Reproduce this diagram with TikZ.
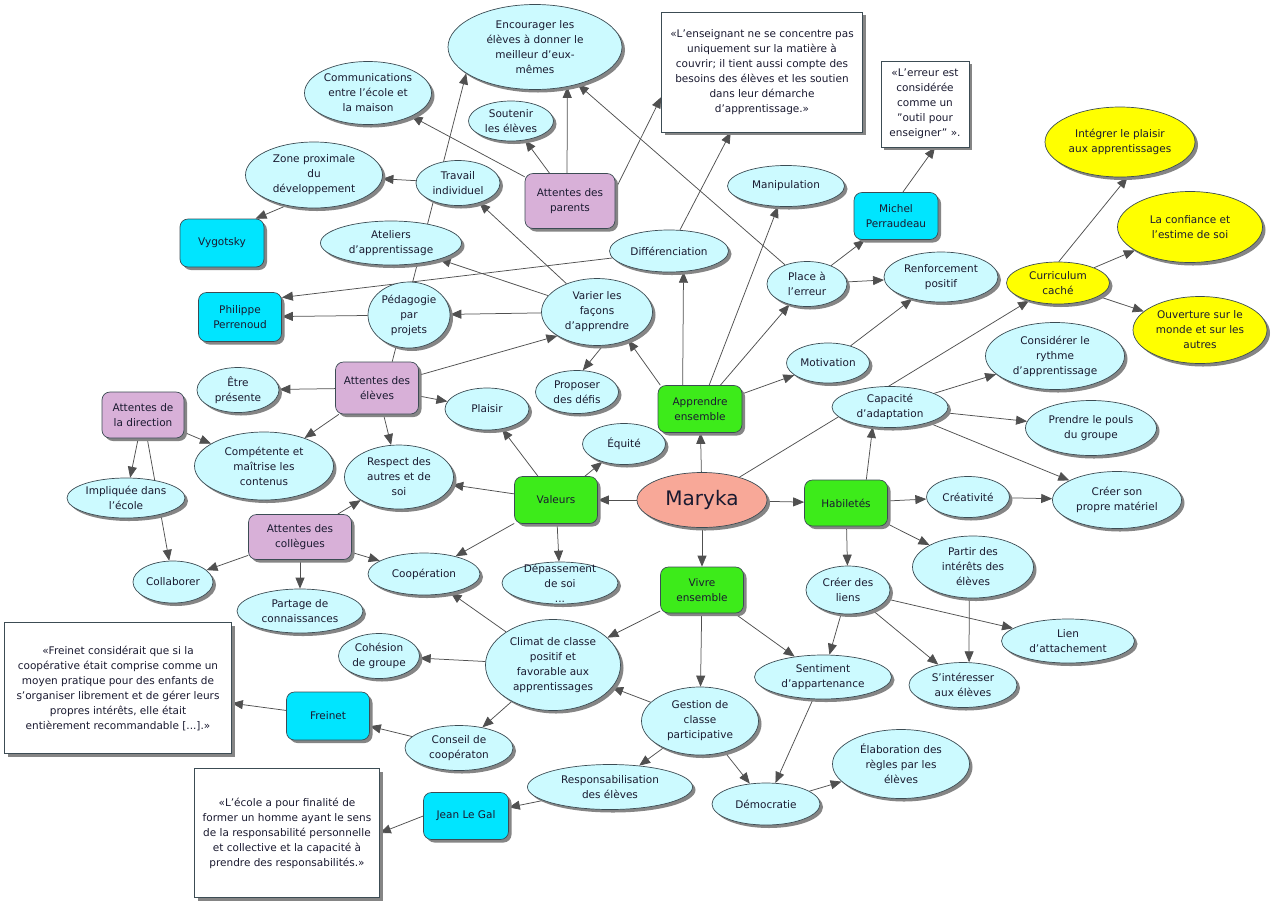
\documentclass[tikz,border=0pt]{standalone}
\usepackage{fontspec}
\setmainfont{DejaVu Sans}
\usetikzlibrary{shapes.geometric,shadows,arrows.meta,backgrounds}
\definecolor{cfill}{HTML}{CCFAFF}
\definecolor{gfill}{HTML}{3DEB1A}
\definecolor{bfill}{HTML}{00E5FF}
\definecolor{pfill}{HTML}{D8B0D8}
\definecolor{yfill}{HTML}{FFFF00}
\definecolor{sfill}{HTML}{F8A898}
\definecolor{bord}{HTML}{3C4C54}
\definecolor{lnc}{HTML}{505050}
\definecolor{txt}{HTML}{1A1A30}
\definecolor{shad}{HTML}{858585}
\begin{document}
\begin{tikzpicture}[x=1pt,y=-1pt,
 nbase/.style={draw=bord, line width=0.7pt, text=txt, align=center, inner sep=0pt,
   font=\fontsize{10.5}{15}\selectfont,
   drop shadow={shadow xshift=3pt, shadow yshift=-3pt, fill=shad, opacity=1}},
 ell/.style 2 args={nbase, ellipse, fill=cfill, inner xsep=-4pt, inner ysep=-2pt, minimum width=#1, minimum height=#2},
 yel/.style 2 args={ell={#1}{#2}, fill=yfill},
 rbox/.style 2 args={nbase, rectangle, rounded corners=8pt, minimum width=#1, minimum height=#2},
 grn/.style 2 args={rbox={#1}{#2}, fill=gfill},
 cyn/.style 2 args={rbox={#1}{#2}, fill=bfill},
 pur/.style 2 args={rbox={#1}{#2}, fill=pfill},
 qbox/.style 2 args={nbase, rectangle, fill=white, minimum width=#1, minimum height=#2},
 arr/.style={draw=lnc, line width=0.75pt, -{Triangle[length=11pt,width=9pt]}},
]
\useasboundingbox (0,0) rectangle (1275,906);
\begin{pgfonlayer}{background}
\fill[white] (0,0) rectangle (1275,906);
\end{pgfonlayer}

% nodes
\node[ell={174}{85}] (enc) at (535,47) {Encourager les\\élèves à donner le\\meilleur d'eux-\\mêmes};
\node[ell={127}{63}] (comm) at (368,93) {Communications\\entre l'école et\\la maison};
\node[ell={85}{40}] (sout) at (511,121) {Soutenir\\les élèves};
\node[qbox={201}{120}] (q1) at (762,72) {«L'enseignant ne se concentre pas\\uniquement sur la matière à\\couvrir; il tient aussi compte des\\besoins des élèves et les soutien\\dans leur démarche\\d'apprentissage.»};
\node[qbox={88}{86}] (q2) at (925,104) {«L'erreur est\\considérée\\comme un\\"outil pour\\enseigner" ».};
\node[ell={137}{66}] (zone) at (314,175) {Zone proximale\\du\\développement};
\node[ell={84}{45}] (trav) at (458,183) {Travail\\individuel};
\node[pur={90}{55}] (par) at (570,201) {Attentes des\\parents};
\node[ell={117}{41}] (manip) at (786,186) {Manipulation};
\node[cyn={84}{47}] (mich) at (896,216) {Michel\\Perraudeau};
\node[cyn={84}{48}] (vyg) at (222,243) {Vygotsky};
\node[ell={141}{44}] (atel) at (391,243) {Ateliers\\d'apprentissage};
\node[ell={119}{42}] (diff) at (669,251) {Différenciation};
\node[ell={80}{45}] (place) at (807,284) {Place à\\l'erreur};
\node[ell={114}{50}] (renf) at (941,277) {Renforcement\\positif};
\node[yel={103}{42}] (curr) at (1058,283) {Curriculum\\caché};
\node[yel={150}{70}] (integ) at (1120,142) {Intégrer le plaisir\\aux apprentissages};
\node[yel={145}{71}] (conf) at (1190,227) {La confiance et\\l'estime de soi};
\node[yel={134}{67}] (ouv) at (1200,330) {Ouverture sur le\\monde et sur les\\autres};
\node[cyn={83}{49}] (phil) at (240,317) {Philippe\\Perrenoud};
\node[ell={82}{66}] (peda) at (409,315) {Pédagogie\\par\\projets};
\node[ell={111}{67}] (var) at (597,312) {Varier les\\façons\\d'apprendre};
\node[ell={139}{67}] (rythme) at (1055,356) {Considérer le\\rythme\\d'apprentissage};
\node[ell={83}{40}] (motiv) at (828,363) {Motivation};
\node[pur={83}{52}] (elev) at (377,388) {Attentes des\\élèves};
\node[ell={82}{45}] (etre) at (238,390) {Être\\présente};
\node[pur={82}{46}] (dir) at (143,415) {Attentes de\\la direction};
\node[ell={83}{43}] (defis) at (577,392) {Proposer\\des défis};
\node[grn={84}{47}] (appr) at (700,409) {Apprendre\\ensemble};
\node[ell={84}{42}] (plai) at (487,409) {Plaisir};
\node[ell={116}{41}] (capa) at (890,407) {Capacité\\d'adaptation};
\node[ell={131}{55}] (pouls) at (1091,428) {Prendre le pouls\\du groupe};
\node[ell={139}{68}] (comp) at (264,466) {Compétente et\\maîtrise les\\contenus};
\node[ell={83}{41}] (equi) at (624,444) {Équité};
\node[ell={109}{64}] (resp) at (399,477) {Respect des\\autres et de\\soi};
\node[grn={83}{47}] (val) at (556,500) {Valeurs};
\node[nbase, ellipse, fill=sfill, minimum width=130, minimum height=55, font=\fontsize{20}{24}\selectfont] (mary) at (702,500) {Maryka};
\node[grn={83}{46}] (hab) at (846,503) {Habiletés};
\node[ell={83}{41}] (crea) at (968,497) {Créativité};
\node[ell={129}{57}] (mat) at (1117,500) {Créer son\\propre matériel};
\node[ell={118}{40}] (impl) at (126,498) {Impliquée dans\\l'école};
\node[pur={103}{45}] (coll) at (300,537) {Attentes des\\collègues};
\node[ell={112}{42}] (coop) at (424,574) {Coopération};
\node[ell={116}{42}, inner ysep=-12pt] (depa) at (560,583) {Dépassement\\de soi\\...};
\node[grn={83}{46}] (vivre) at (702,590) {Vivre\\ensemble};
\node[ell={84}{48}] (liens) at (848,590) {Créer des\\liens};
\node[ell={121}{62}] (part) at (973,567) {Partir des\\intérêts des\\élèves};
\node[ell={80}{42}] (collab) at (173,582) {Collaborer};
\node[ell={126}{44}] (parta) at (300,611) {Partage de\\connaissances};
\node[ell={133}{44}] (lien) at (1068,641) {Lien\\d'attachement};
\node[ell={81}{45}] (cohe) at (379,656) {Cohésion\\de groupe};
\node[ell={135}{91}] (clim) at (553,665) {Climat de classe\\positif et\\favorable aux\\apprentissages};
\node[ell={137}{44}] (senti) at (823,677) {Sentiment\\d'appartenance};
\node[ell={108}{45}] (inter) at (963,685) {S'intéresser\\aux élèves};
\node[cyn={83}{48}] (frei) at (328,716) {Freinet};
\node[qbox={227}{131}] (q3) at (118,688) {«Freinet considérait que si la\\coopérative était comprise comme un\\moyen pratique pour des enfants de\\s'organiser librement et de gérer leurs\\propres intérêts, elle était\\entièrement recommandable [...].»};
\node[ell={117}{68}] (gest) at (700,721) {Gestion de\\classe\\participative};
\node[ell={108}{45}] (cons) at (459,748) {Conseil de\\coopératon};
\node[ell={137}{69}] (elab) at (901,764) {Élaboration des\\règles par les\\élèves};
\node[ell={165}{45}] (respo) at (610,787) {Responsabilisation\\des élèves};
\node[cyn={85}{47}] (jean) at (466,816) {Jean Le Gal};
\node[ell={108}{42}] (demo) at (766,804) {Démocratie};
\node[qbox={185}{129}] (q4) at (287,833) {«L'école a pour finalité de\\former un homme ayant le sens\\de la responsabilité personnelle\\et collective et la capacité à\\prendre des responsabilités.»};

% connectors
\begin{pgfonlayer}{background}
\draw[arr] (mary) -- (appr);
\draw[arr] (mary) -- (val);
\draw[arr] (mary) -- (hab);
\draw[arr] (mary) -- (vivre);
\draw[arr] (mary) -- (curr);
\draw[arr] (elev.60) -- (enc.201);
\draw[arr] (par) -- (comm);
\draw[arr] (par) -- (sout);
\draw[arr] (par.96) -- (enc.-51);
\draw[arr] (par.14) -- (q1.194);
\draw[arr] (trav) -- (zone);
\draw[arr] (zone.228) -- (vyg.36);
\draw[arr] (var) -- (trav);
\draw[arr] (var) -- (atel);
\draw[arr] (var) -- (peda);
\draw[arr] (var.-80) -- (defis.75);
\draw[arr] (peda) -- (phil);
\draw[arr] (diff.187) -- (phil.25);
\draw[arr] (elev.17) -- (var.211);
\draw[arr] (elev) -- (etre);
\draw[arr] (elev) -- (comp);
\draw[arr] (elev) -- (resp);
\draw[arr] (elev) -- (plai);
\draw[arr] (dir) -- (comp);
\draw[arr] (dir) -- (impl);
\draw[arr] (dir) -- (collab);
\draw[arr] (coll) -- (collab);
\draw[arr] (coll) -- (resp);
\draw[arr] (coll) -- (parta);
\draw[arr] (coll) -- (coop);
\draw[arr] (val) -- (plai);
\draw[arr] (val) -- (equi);
\draw[arr] (val) -- (resp);
\draw[arr] (val) -- (coop);
\draw[arr] (val) -- (depa);
\draw[arr] (appr.149) -- (var.-42);
\draw[arr] (appr.126) -- (diff.-55);
\draw[arr] (diff) -- (q1);
\draw[arr] (appr) -- (manip);
\draw[arr] (appr) -- (place);
\draw[arr] (place) -- (enc);
\draw[arr] (place) -- (mich);
\draw[arr] (place) -- (renf);
\draw[arr] (mich.74) -- (q2.-77);
\draw[arr] (appr) -- (motiv);
\draw[arr] (motiv) -- (renf);
\draw[arr] (curr.88) -- (integ.-78);
\draw[arr] (curr) -- (conf);
\draw[arr] (curr) -- (ouv);
\draw[arr] (hab.49) -- (capa.229);
\draw[arr] (capa) -- (rythme);
\draw[arr] (capa) -- (pouls);
\draw[arr] (capa) -- (mat);
\draw[arr] (hab) -- (crea);
\draw[arr] (crea) -- (mat);
\draw[arr] (hab) -- (part);
\draw[arr] (hab) -- (liens);
\draw[arr] (liens) -- (lien);
\draw[arr] (liens) -- (inter);
\draw[arr] (part.263) -- (inter.75);
\draw[arr] (liens) -- (senti);
\draw[arr] (vivre) -- (clim);
\draw[arr] (vivre) -- (gest);
\draw[arr] (vivre) -- (senti);
\draw[arr] (clim) -- (coop);
\draw[arr] (clim) -- (cohe);
\draw[arr] (clim) -- (cons);
\draw[arr] (gest) -- (clim);
\draw[arr] (gest) -- (respo);
\draw[arr] (gest) -- (demo);
\draw[arr] (senti) -- (demo);
\draw[arr] (demo) -- (elab);
\draw[arr] (cons) -- (frei);
\draw[arr] (frei) -- (q3);
\draw[arr] (respo) -- (jean);
\draw[arr] (jean.west) -- (q4.east);
\end{pgfonlayer}
\end{tikzpicture}
\end{document}
